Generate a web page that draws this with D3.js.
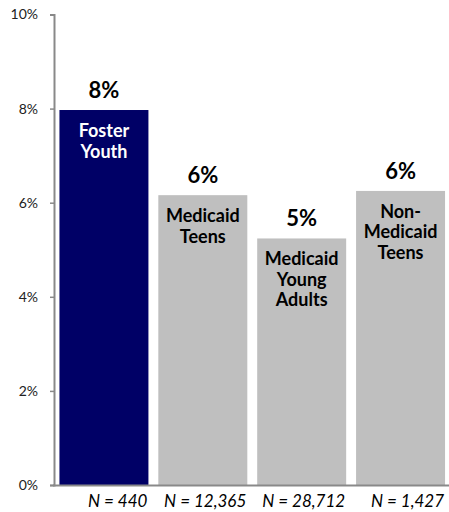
<!DOCTYPE html>
<html><head><meta charset="utf-8">
<script src="https://cdn.jsdelivr.net/npm/d3@7"></script>
<style>body{margin:0;background:#fff}svg{display:block}</style>
</head><body><svg id="c" width="449" height="512"></svg>
<script>
const categories = ["Foster Youth", "Medicaid Teens", "Medicaid Young Adults", "Non-Medicaid Teens"];
const labelLines = [["Foster","Youth"],["Medicaid","Teens"],["Medicaid","Young","Adults"],["Non-","Medicaid","Teens"]];
const values = [7.97, 6.16, 5.24, 6.25];
const valueLabels = ["8%","6%","5%","6%"];
const nLabels = ["N = 440","N = 12,365","N = 28,712","N = 1,427"];
const yTicks = [0,2,4,6,8,10];
const colors = ["#000066","#bfbfbf","#bfbfbf","#bfbfbf"];

const svg = d3.select("#c");
const font = "Lato, 'Open Sans', sans-serif";
const x = d3.scaleBand().domain(categories).range([54.5, 450]).paddingInner(0.1).paddingOuter(0.05);
const y = d3.scaleLinear().domain([0,10]).range([485,14.5]);

// bars
svg.selectAll("rect.bar").data(categories).join("rect")
  .attr("x", d => x(d)).attr("width", x.bandwidth())
  .attr("y", (d,i) => y(values[i])).attr("height", (d,i) => y(0)-y(values[i]))
  .attr("fill", (d,i) => colors[i]);

// y axis
const ya = svg.append("g").attr("transform","translate(54,0)")
  .call(d3.axisLeft(y).tickValues(yTicks).tickFormat(d => d + "%").tickSize(4).tickPadding(12));
ya.select(".domain").attr("stroke","#898989").attr("stroke-width",2);
ya.selectAll(".tick line").attr("stroke","#898989").attr("stroke-width",1.5);
ya.selectAll(".tick text").attr("font-family",font).attr("font-size",14).attr("fill","#222");

// x axis line
svg.append("line").attr("x1",53).attr("x2",449).attr("y1",y(0)+0.5).attr("y2",y(0)+0.5)
  .attr("stroke","#898989").attr("stroke-width",2);

// value labels
svg.selectAll("text.val").data(categories).join("text")
  .attr("x", d => x(d)+x.bandwidth()/2).attr("y", (d,i) => y(values[i]) - 12)
  .attr("text-anchor","middle").attr("font-family",font).attr("font-weight","bold")
  .attr("font-size",22).attr("fill","#000").text((d,i) => valueLabels[i]);

// inside labels
categories.forEach((c,i) => {
  const t = svg.append("text").attr("text-anchor","middle").attr("font-family",font)
    .attr("font-weight","bold").attr("font-size",18).attr("fill", i===0 ? "#fff" : "#000");
  labelLines[i].forEach((ln,j) => {
    t.append("tspan").attr("x", x(c)+x.bandwidth()/2).attr("y", y(values[i]) + 27 + j*20.5).text(ln);
  });
});

// N labels
svg.selectAll("text.n").data(categories).join("text")
  .attr("x", d => x(d)+x.bandwidth()-1).attr("y", 506.5)
  .attr("text-anchor","end").attr("font-family",font).attr("font-style","italic")
  .attr("font-size",17).attr("fill","#000").text((d,i) => nLabels[i]);
</script></body></html>
